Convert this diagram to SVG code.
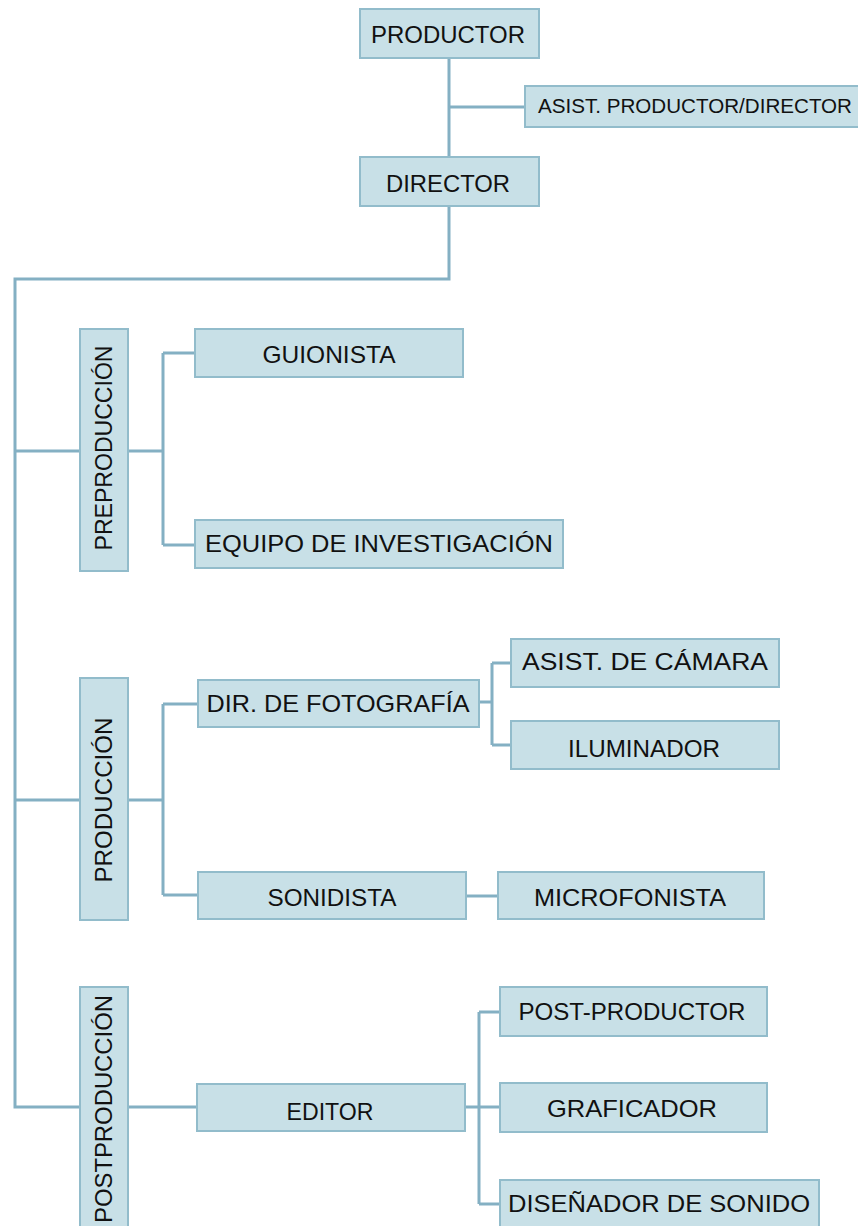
<svg xmlns="http://www.w3.org/2000/svg" width="858" height="1226" viewBox="0 0 858 1226">
<style>
.box{fill:#c8e0e7;stroke:#92bccb;stroke-width:2}
.t{font-family:"Liberation Sans","DejaVu Sans",sans-serif;font-size:24px;fill:#111;text-anchor:middle}
.s{font-size:20.5px}
.ln{fill:none;stroke:#84b0c3;stroke-width:3}
</style>
<rect width="858" height="1226" fill="#fff"/>
<g id="connectors">
<path class="ln" d="M449 58V157M449 107H525"/>
<path class="ln" d="M449 206V279H15V1107H80"/>
<path class="ln" d="M15 451H80M15 800H80"/>
<path class="ln" d="M128 451H163M163 353V545M163 353H195M163 545H195"/>
<path class="ln" d="M128 800H163M163 704V895M163 704H198M163 895H198"/>
<path class="ln" d="M479 702H492M492 663V745M492 663H511M492 745H511"/>
<path class="ln" d="M466 896H498"/>
<path class="ln" d="M128 1107H197M465 1107H479M479 1012V1204M479 1012H500M479 1107H500M479 1204H500"/>
</g>
<g id="productor"><rect class="box" x="360" y="9" width="179" height="49"/><text class="t" x="448" y="43" textLength="154" lengthAdjust="spacingAndGlyphs">PRODUCTOR</text></g>
<g id="asist-productor"><rect class="box" x="525" y="86" width="340" height="41"/><text class="t s" x="695" y="113" textLength="314" lengthAdjust="spacingAndGlyphs">ASIST. PRODUCTOR/DIRECTOR</text></g>
<g id="director"><rect class="box" x="360" y="157" width="179" height="49"/><text class="t" x="448" y="192" textLength="124" lengthAdjust="spacingAndGlyphs">DIRECTOR</text></g>
<g id="preproduccion"><rect class="box" x="80" y="329" width="48" height="242"/><text class="t" transform="translate(112 448) rotate(-90)" textLength="205" lengthAdjust="spacingAndGlyphs">PREPRODUCCIÓN</text></g>
<g id="guionista"><rect class="box" x="195" y="329" width="268" height="48"/><text class="t" x="329" y="363" textLength="133" lengthAdjust="spacingAndGlyphs">GUIONISTA</text></g>
<g id="equipo"><rect class="box" x="195" y="520" width="368" height="48"/><text class="t" x="379" y="552" textLength="348" lengthAdjust="spacingAndGlyphs">EQUIPO  DE  INVESTIGACIÓN</text></g>
<g id="produccion"><rect class="box" x="80" y="678" width="48" height="242"/><text class="t" transform="translate(112 800) rotate(-90)" textLength="165" lengthAdjust="spacingAndGlyphs">PRODUCCIÓN</text></g>
<g id="dir-fotografia"><rect class="box" x="198" y="680" width="281" height="47"/><text class="t" x="338" y="712" textLength="263" lengthAdjust="spacingAndGlyphs">DIR. DE  FOTOGRAFÍA</text></g>
<g id="asist-camara"><rect class="box" x="511" y="639" width="268" height="48"/><text class="t" x="645" y="670" textLength="246" lengthAdjust="spacingAndGlyphs">ASIST.  DE  CÁMARA</text></g>
<g id="iluminador"><rect class="box" x="511" y="721" width="268" height="48"/><text class="t" x="644" y="757" textLength="152" lengthAdjust="spacingAndGlyphs">ILUMINADOR</text></g>
<g id="sonidista"><rect class="box" x="198" y="872" width="268" height="47"/><text class="t" x="332" y="906" textLength="129" lengthAdjust="spacingAndGlyphs">SONIDISTA</text></g>
<g id="microfonista"><rect class="box" x="498" y="872" width="266" height="47"/><text class="t" x="630" y="906" textLength="192" lengthAdjust="spacingAndGlyphs">MICROFONISTA</text></g>
<g id="postproduccion"><rect class="box" x="80" y="987" width="48" height="250"/><text class="t" transform="translate(112 1109) rotate(-90)" textLength="228" lengthAdjust="spacingAndGlyphs">POSTPRODUCCIÓN</text></g>
<g id="editor"><rect class="box" x="197" y="1084" width="268" height="47"/><text class="t" x="330" y="1120" textLength="87" lengthAdjust="spacingAndGlyphs">EDITOR</text></g>
<g id="post-productor"><rect class="box" x="500" y="987" width="267" height="49"/><text class="t" x="632" y="1020" textLength="227" lengthAdjust="spacingAndGlyphs">POST-PRODUCTOR</text></g>
<g id="graficador"><rect class="box" x="500" y="1083" width="267" height="49"/><text class="t" x="632" y="1117" textLength="170" lengthAdjust="spacingAndGlyphs">GRAFICADOR</text></g>
<g id="disenador"><rect class="box" x="500" y="1180" width="319" height="56"/><text class="t" x="659" y="1212" textLength="302" lengthAdjust="spacingAndGlyphs">DISEÑADOR  DE  SONIDO</text></g>
</svg>
